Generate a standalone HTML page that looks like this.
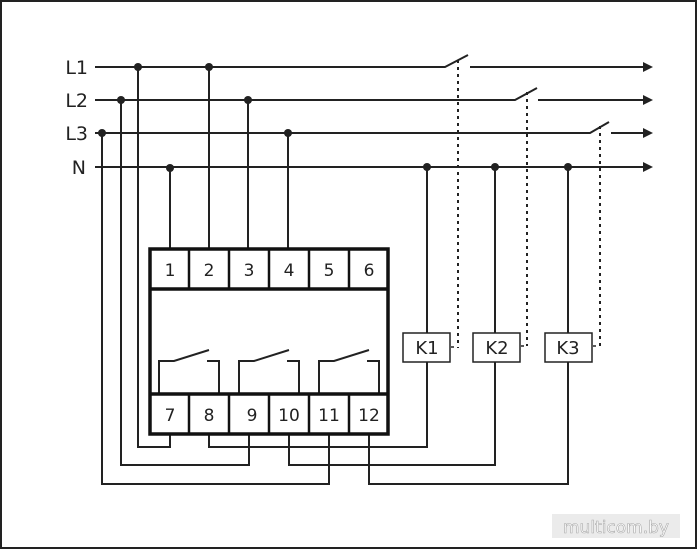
<!DOCTYPE html>
<html><head><style>
html,body{margin:0;padding:0;background:#fff;}
svg{display:block;}
text{font-family:"DejaVu Sans","Liberation Sans",sans-serif;}
</style></head><body>
<svg width="698" height="550" viewBox="0 0 698 550" xmlns="http://www.w3.org/2000/svg">
<rect x="1" y="1" width="695" height="547" fill="#fff" stroke="#222" stroke-width="2"/>
<g font-size="19" fill="#222" text-anchor="end">
<text x="88" y="74">L1</text>
<text x="88" y="107">L2</text>
<text x="88" y="140">L3</text>
<text x="86" y="174">N</text>
</g>
<g stroke="#222" stroke-width="2" fill="none">
<!-- bus lines -->
<polyline points="95,67 445,67 468,55"/><line x1="470" y1="67" x2="645" y2="67"/>
<polyline points="95,100 515,100 537,88"/><line x1="538" y1="100" x2="645" y2="100"/>
<polyline points="95,133 590,133 609,122"/><line x1="611" y1="133" x2="645" y2="133"/>
<line x1="95" y1="167" x2="645" y2="167"/>
<!-- verticals from bus -->
<line x1="209" y1="67" x2="209" y2="248"/>
<line x1="248" y1="100" x2="248" y2="248"/>
<line x1="288" y1="133" x2="288" y2="248"/>
<line x1="170" y1="167" x2="170" y2="248"/>
<line x1="427" y1="167" x2="427" y2="333"/>
<line x1="495" y1="167" x2="495" y2="333"/>
<line x1="568" y1="167" x2="568" y2="333"/>
<!-- bottom wiring -->
<polyline points="138,67 138,447 170,447 170,434"/>
<polyline points="209,434 209,447 427,447 427,362"/>
<polyline points="121,100 121,465 249,465 249,434"/>
<polyline points="289,434 289,465 495,465 495,362"/>
<polyline points="102,133 102,484 329,484 329,434"/>
<polyline points="369,434 369,484 568,484 568,362"/>
<!-- contacts -->
<polyline points="159,394 159,361 174,361 209,350"/><polyline points="207,361 219,361 219,394"/>
<polyline points="239,394 239,361 254,361 289,350"/><polyline points="287,361 299,361 299,394"/>
<polyline points="319,394 319,361 334,361 369,350"/><polyline points="367,361 379,361 379,394"/>
</g>
<!-- device -->
<g stroke="#111" stroke-width="3.5" fill="none">
<rect x="150" y="249" width="238" height="185"/>
<line x1="150" y1="289" x2="388" y2="289"/>
<line x1="150" y1="394" x2="388" y2="394"/>
</g>
<g stroke="#111" stroke-width="2.5">
<line x1="189" y1="249" x2="189" y2="289"/><line x1="229" y1="249" x2="229" y2="289"/><line x1="269" y1="249" x2="269" y2="289"/><line x1="309" y1="249" x2="309" y2="289"/><line x1="349" y1="249" x2="349" y2="289"/>
<line x1="189" y1="394" x2="189" y2="434"/><line x1="229" y1="394" x2="229" y2="434"/><line x1="269" y1="394" x2="269" y2="434"/><line x1="309" y1="394" x2="309" y2="434"/><line x1="349" y1="394" x2="349" y2="434"/>
</g>
<g font-size="17" fill="#222" text-anchor="middle">
<text x="170" y="276">1</text><text x="209" y="276">2</text><text x="249" y="276">3</text><text x="289" y="276">4</text><text x="329" y="276">5</text><text x="369" y="276">6</text>
<text x="170" y="421">7</text><text x="209" y="421">8</text><text x="252" y="421">9</text><text x="289" y="421">10</text><text x="329" y="421">11</text><text x="369" y="421">12</text>
</g>
<!-- K boxes -->
<g stroke="#222" stroke-width="1.5" fill="#fff">
<rect x="403" y="333" width="47" height="29"/>
<rect x="473" y="333" width="47" height="29"/>
<rect x="545" y="333" width="47" height="29"/>
</g>
<g font-size="18" fill="#222" text-anchor="middle">
<text x="427" y="354">K1</text><text x="497" y="354">K2</text><text x="568" y="354">K3</text>
</g>
<!-- dotted -->
<g stroke="#222" stroke-width="2" stroke-dasharray="3,4" fill="none">
<line x1="458" y1="60" x2="458" y2="348"/>
<line x1="527" y1="92" x2="527" y2="346"/>
<line x1="600" y1="126" x2="600" y2="346"/>
</g>
<g stroke="#222" stroke-width="1.5"><line x1="451" y1="347" x2="454" y2="347"/><line x1="521" y1="346" x2="524" y2="346"/><line x1="593" y1="346" x2="596" y2="346"/></g>
<!-- arrows -->
<g fill="#222">
<polygon points="643,62 653,67 643,72"/><polygon points="643,95 653,100 643,105"/><polygon points="643,128 653,133 643,138"/><polygon points="643,162 653,167 643,172"/>
<circle cx="138" cy="67" r="4"/><circle cx="209" cy="67" r="4"/>
<circle cx="121" cy="100" r="4"/><circle cx="248" cy="100" r="4"/>
<circle cx="102" cy="133" r="4"/><circle cx="288" cy="133" r="4"/>
<circle cx="170" cy="168" r="4"/><circle cx="427" cy="167" r="4"/><circle cx="495" cy="167" r="4"/><circle cx="568" cy="167" r="4"/>
</g>
<rect x="552" y="514" width="128" height="24" fill="#d8d8d8" opacity="0.5"/>
<text x="616" y="533" font-size="17" fill="#fff" text-anchor="middle" stroke="#aaa" stroke-width="0.6" font-family="Liberation Sans, sans-serif">multicom.by</text>
</svg>
</body></html>
